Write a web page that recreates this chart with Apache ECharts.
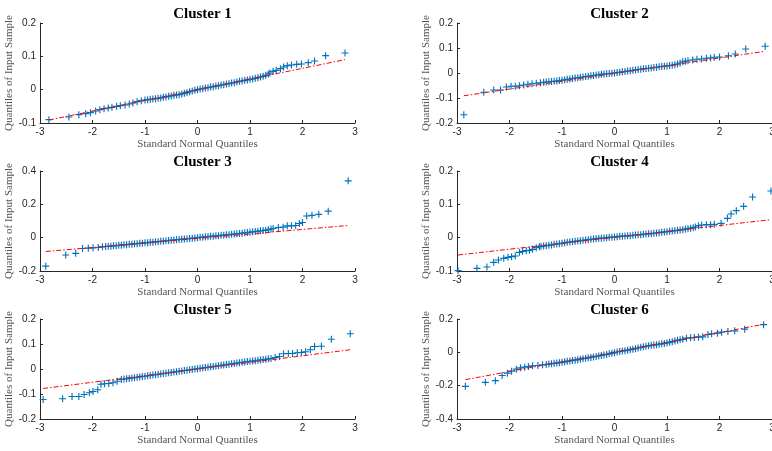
<!DOCTYPE html>
<html>
<head>
<meta charset="utf-8">
<script src="https://cdn.jsdelivr.net/npm/echarts@6/dist/echarts.min.js"></script>
<style>
  html, body { margin: 0; padding: 0; background: #fff; }
  #chart { width: 772px; height: 451px; }
</style>
</head>
<body>
<div id="chart"></div>
<script>
// Panel titles
const panelTitles = ['Cluster 1', 'Cluster 2', 'Cluster 3', 'Cluster 4', 'Cluster 5', 'Cluster 6'];

// Axis ranges: x shared, y per panel as [min, max, interval]
const xRange = [-3, 3, 1];
const yRanges = [
  [-0.1, 0.2, 0.1],
  [-0.2, 0.2, 0.1],
  [-0.2, 0.4, 0.2],
  [-0.1, 0.2, 0.1],
  [-0.2, 0.2, 0.1],
  [-0.4, 0.2, 0.2]
];

// Sample quantiles vs standard normal quantiles, [x, y]
const cluster1 = [
  [-2.83,-0.090],[-2.45,-0.082],[-2.26,-0.075],[-2.13,-0.072],[-2.04,-0.069],[-1.94,-0.064],[-1.86,-0.060],[-1.78,-0.057],
  [-1.70,-0.055],[-1.63,-0.053],[-1.54,-0.050],[-1.47,-0.048],[-1.38,-0.046],[-1.30,-0.043],[-1.23,-0.040],[-1.15,-0.036],[-1.07,-0.033],
  [-1.0,-0.031],[-0.95,-0.030],[-0.9,-0.029],[-0.85,-0.028],[-0.8,-0.027],[-0.75,-0.026],[-0.7,-0.025],[-0.65,-0.023],
  [-0.6,-0.022],[-0.55,-0.020],[-0.5,-0.019],[-0.45,-0.017],[-0.4,-0.016],[-0.35,-0.015],[-0.3,-0.013],[-0.25,-0.011],
  [-0.2,-0.009],[-0.15,-0.006],[-0.1,-0.004],[-0.05,-0.002],[0,0],[0.05,0.002],[0.1,0.003],[0.15,0.005],[0.2,0.006],
  [0.25,0.008],[0.3,0.009],[0.35,0.011],[0.4,0.012],[0.45,0.014],[0.5,0.015],[0.55,0.017],[0.6,0.018],[0.65,0.020],
  [0.7,0.021],[0.75,0.023],[0.8,0.025],[0.85,0.026],[0.9,0.028],[0.95,0.029],[1.0,0.031],[1.05,0.032],[1.1,0.034],
  [1.15,0.036],[1.2,0.038],[1.25,0.040],[1.3,0.043],[1.35,0.047],
  [1.38,0.050],[1.44,0.055],[1.50,0.058],[1.58,0.063],[1.64,0.068],[1.71,0.072],[1.79,0.074],[1.89,0.076],[1.98,0.077],
  [2.11,0.081],[2.23,0.086],[2.44,0.102],[2.81,0.110]
];
const cluster2 = [
  [-2.87,-0.167],[-2.49,-0.077],[-2.30,-0.068],[-2.17,-0.068],[-2.06,-0.056],[-1.97,-0.053],[-1.89,-0.053],[-1.81,-0.051],
  [-1.73,-0.048],[-1.65,-0.045],[-1.57,-0.043],[-1.49,-0.041],[-1.41,-0.039],
  [-1.35,-0.037],[-1.3,-0.036],[-1.25,-0.035],[-1.2,-0.034],[-1.15,-0.033],[-1.1,-0.032],[-1.05,-0.030],[-1.0,-0.029],
  [-0.95,-0.027],[-0.9,-0.025],[-0.85,-0.024],[-0.8,-0.022],[-0.75,-0.020],[-0.7,-0.019],[-0.65,-0.017],[-0.6,-0.016],
  [-0.55,-0.014],[-0.5,-0.013],[-0.45,-0.011],[-0.4,-0.010],[-0.35,-0.008],[-0.3,-0.007],[-0.25,-0.005],[-0.2,-0.004],
  [-0.15,-0.003],[-0.1,-0.002],[-0.05,-0.001],[0,0],[0.05,0.002],[0.1,0.003],[0.15,0.005],[0.2,0.006],[0.25,0.008],
  [0.3,0.009],[0.35,0.011],[0.4,0.012],[0.45,0.014],[0.5,0.015],[0.55,0.017],[0.6,0.018],[0.65,0.019],[0.7,0.020],
  [0.75,0.022],[0.8,0.023],[0.85,0.025],[0.9,0.026],[0.95,0.027],[1.0,0.028],[1.05,0.030],[1.1,0.031],[1.15,0.033],
  [1.2,0.036],[1.25,0.040],[1.3,0.045],[1.35,0.047],
  [1.40,0.049],[1.49,0.052],[1.57,0.055],[1.66,0.056],[1.75,0.059],[1.83,0.060],[1.90,0.063],[2.0,0.064],
  [2.17,0.069],[2.30,0.076],[2.50,0.096],[2.87,0.107]
];
const cluster3 = [
  [-2.89,-0.171],[-2.51,-0.104],[-2.32,-0.094],[-2.19,-0.065],[-2.08,-0.063],[-1.99,-0.061],[-1.89,-0.059],[-1.81,-0.055],[-1.75,-0.053],
  [-1.7,-0.052],[-1.65,-0.051],[-1.6,-0.049],[-1.55,-0.048],[-1.5,-0.046],[-1.45,-0.045],[-1.4,-0.043],[-1.35,-0.042],
  [-1.3,-0.040],[-1.25,-0.039],[-1.2,-0.037],[-1.15,-0.036],[-1.1,-0.034],[-1.05,-0.033],[-1.0,-0.031],[-0.95,-0.030],
  [-0.9,-0.028],[-0.85,-0.027],[-0.8,-0.025],[-0.75,-0.024],[-0.7,-0.022],[-0.65,-0.021],[-0.6,-0.019],[-0.55,-0.017],
  [-0.5,-0.015],[-0.45,-0.014],[-0.4,-0.012],[-0.35,-0.011],[-0.3,-0.009],[-0.25,-0.008],[-0.2,-0.006],[-0.15,-0.005],
  [-0.1,-0.003],[-0.05,-0.002],[0,0],[0.05,0.002],[0.1,0.003],[0.15,0.005],[0.2,0.006],[0.25,0.008],[0.3,0.009],
  [0.35,0.011],[0.4,0.012],[0.45,0.014],[0.5,0.015],[0.55,0.017],[0.6,0.018],[0.65,0.020],[0.7,0.022],[0.75,0.024],
  [0.8,0.025],[0.85,0.027],[0.9,0.029],[0.95,0.031],[1.0,0.033],[1.05,0.035],[1.1,0.037],[1.15,0.039],[1.2,0.041],
  [1.25,0.043],[1.3,0.045],[1.35,0.048],[1.4,0.052],
  [1.44,0.055],[1.54,0.061],[1.63,0.063],[1.71,0.071],[1.79,0.071],[1.87,0.073],[1.94,0.085],[2.0,0.091],
  [2.08,0.130],[2.18,0.134],[2.31,0.140],[2.49,0.159],[2.87,0.341]
];
const cluster4 = [
  [-2.98,-0.099],[-2.62,-0.092],[-2.43,-0.088],[-2.30,-0.074],[-2.21,-0.067],[-2.11,-0.062],[-2.03,-0.059],[-1.96,-0.057],[-1.89,-0.055],
  [-1.81,-0.044],[-1.75,-0.041],[-1.68,-0.039],[-1.62,-0.038],[-1.56,-0.035],[-1.49,-0.030],[-1.43,-0.027],
  [-1.4,-0.026],[-1.35,-0.025],[-1.3,-0.024],[-1.25,-0.023],[-1.2,-0.022],[-1.15,-0.020],[-1.1,-0.019],[-1.05,-0.018],
  [-1.0,-0.017],[-0.95,-0.015],[-0.9,-0.014],[-0.85,-0.013],[-0.8,-0.012],[-0.75,-0.011],[-0.7,-0.010],[-0.65,-0.009],
  [-0.6,-0.008],[-0.55,-0.007],[-0.5,-0.006],[-0.45,-0.005],[-0.4,-0.004],[-0.35,-0.003],[-0.3,-0.002],[-0.25,-0.0015],
  [-0.2,-0.001],[-0.15,0.000],[-0.1,0.001],[-0.05,0.0015],[0,0.002],[0.05,0.003],[0.1,0.004],[0.15,0.0045],[0.2,0.005],
  [0.25,0.0055],[0.3,0.006],[0.35,0.007],[0.4,0.008],[0.45,0.0085],[0.5,0.009],[0.55,0.010],[0.6,0.011],[0.65,0.0115],
  [0.7,0.012],[0.75,0.013],[0.8,0.014],[0.85,0.015],[0.9,0.016],[0.95,0.017],[1.0,0.018],[1.05,0.019],[1.1,0.020],
  [1.15,0.021],[1.2,0.022],[1.25,0.023],[1.3,0.024],[1.35,0.0255],[1.4,0.027],[1.45,0.0285],[1.5,0.030],
  [1.54,0.032],[1.60,0.036],[1.66,0.038],[1.75,0.039],[1.83,0.039],[1.90,0.040],[2.03,0.043],
  [2.15,0.058],[2.22,0.071],[2.32,0.081],[2.46,0.094],[2.63,0.122],[2.98,0.140]
];
const cluster5 = [
  [-2.94,-0.122],[-2.57,-0.119],[-2.39,-0.110],[-2.26,-0.110],[-2.16,-0.102],[-2.06,-0.095],[-1.99,-0.090],[-1.90,-0.083],
  [-1.84,-0.061],[-1.77,-0.059],[-1.69,-0.058],[-1.61,-0.055],[-1.53,-0.049],[-1.45,-0.042],
  [-1.4,-0.040],[-1.35,-0.039],[-1.3,-0.038],[-1.25,-0.036],[-1.2,-0.035],[-1.15,-0.033],[-1.1,-0.032],[-1.05,-0.030],
  [-1.0,-0.029],[-0.95,-0.027],[-0.9,-0.026],[-0.85,-0.024],[-0.8,-0.023],[-0.75,-0.021],[-0.7,-0.020],[-0.65,-0.018],
  [-0.6,-0.017],[-0.55,-0.015],[-0.5,-0.014],[-0.45,-0.012],[-0.4,-0.011],[-0.35,-0.009],[-0.3,-0.008],[-0.25,-0.006],
  [-0.2,-0.005],[-0.15,-0.003],[-0.1,-0.002],[-0.05,0.000],[0,0.001],[0.05,0.003],[0.1,0.004],[0.15,0.006],[0.2,0.007],
  [0.25,0.009],[0.3,0.010],[0.35,0.012],[0.4,0.013],[0.45,0.015],[0.5,0.016],[0.55,0.018],[0.6,0.019],[0.65,0.021],
  [0.7,0.022],[0.75,0.024],[0.8,0.025],[0.85,0.027],[0.9,0.028],[0.95,0.030],[1.0,0.031],[1.05,0.032],[1.1,0.033],
  [1.15,0.035],[1.2,0.036],[1.25,0.038],[1.3,0.039],[1.35,0.041],[1.4,0.042],
  [1.48,0.046],[1.56,0.050],[1.64,0.061],[1.73,0.062],[1.81,0.062],[1.90,0.065],[1.98,0.066],[2.06,0.069],
  [2.15,0.077],[2.23,0.090],[2.36,0.091],[2.55,0.119],[2.91,0.141]
];
const cluster6 = [
  [-2.84,-0.204],[-2.46,-0.180],[-2.27,-0.170],[-2.14,-0.139],[-2.04,-0.125],[-1.96,-0.113],[-1.87,-0.101],[-1.79,-0.093],
  [-1.71,-0.089],[-1.64,-0.085],[-1.56,-0.081],[-1.46,-0.079],[-1.37,-0.075],
  [-1.3,-0.073],[-1.25,-0.070],[-1.2,-0.068],[-1.15,-0.066],[-1.1,-0.064],[-1.05,-0.062],[-1.0,-0.060],[-0.95,-0.057],
  [-0.9,-0.054],[-0.85,-0.052],[-0.8,-0.049],[-0.75,-0.047],[-0.7,-0.044],[-0.65,-0.041],[-0.6,-0.038],[-0.55,-0.036],
  [-0.5,-0.033],[-0.45,-0.031],[-0.4,-0.028],[-0.35,-0.025],[-0.3,-0.022],[-0.25,-0.019],[-0.2,-0.016],[-0.15,-0.013],
  [-0.1,-0.009],[-0.05,-0.006],[0,-0.002],[0.05,0.002],[0.1,0.005],[0.15,0.008],[0.2,0.010],[0.25,0.013],[0.3,0.016],
  [0.35,0.019],[0.4,0.022],[0.45,0.026],[0.5,0.030],[0.55,0.033],[0.6,0.036],[0.65,0.039],[0.7,0.042],[0.75,0.044],
  [0.8,0.046],[0.85,0.049],[0.9,0.051],[0.95,0.053],[1.0,0.056],[1.05,0.060],[1.1,0.064],[1.15,0.068],[1.2,0.072],
  [1.25,0.075],[1.3,0.078],
  [1.37,0.085],[1.45,0.087],[1.52,0.089],[1.60,0.091],[1.68,0.093],[1.78,0.107],[1.85,0.111],[1.96,0.115],
  [2.04,0.121],[2.16,0.125],[2.29,0.129],[2.48,0.139],[2.84,0.166]
];

// Fitted reference lines (end points)
const ref1 = [[-2.83,-0.091],[2.81,0.090]];
const ref2 = [[-2.87,-0.091],[2.87,0.087]];
const ref3 = [[-2.89,-0.083],[2.87,0.073]];
const ref4 = [[-2.98,-0.052],[2.98,0.054]];
const ref5 = [[-2.94,-0.078],[2.91,0.077]];
const ref6 = [[-2.84,-0.164],[2.84,0.168]];

const samples = [cluster1, cluster2, cluster3, cluster4, cluster5, cluster6];
const refs = [ref1, ref2, ref3, ref4, ref5, ref6];

const xLabel = 'Standard Normal Quantiles';
const yLabel = 'Quantiles of Input Sample';

// Layout of the 3x2 panel grid
const colLeft = [40, 457];
const rowTop = [23, 171, 319];
const panelW = 315;
const panelH = 100;

const axisColor = '#262626';
const markerBlue = '#0072BD';
const plusPath = 'path://M4.2,0H5.8V4.2H10V5.8H5.8V10H4.2V5.8H0V4.2H4.2Z';

const grids = [], xAxes = [], yAxes = [], series = [], titles = [];

for (let i = 0; i < 6; i++) {
  const col = i % 2, row = Math.floor(i / 2);
  grids.push({
    left: colLeft[col], top: rowTop[row], width: panelW, height: panelH,
    containLabel: false, outerBoundsMode: 'none'
  });
  titles.push({
    text: panelTitles[i],
    left: colLeft[col] + panelW / 2,
    top: rowTop[row] - 21,
    textAlign: 'center',
    textStyle: { fontFamily: 'Liberation Serif', fontWeight: 'bold', fontSize: 15, color: '#000' }
  });
  xAxes.push({
    gridIndex: i, type: 'value',
    min: xRange[0], max: xRange[1], interval: xRange[2],
    name: xLabel, nameLocation: 'middle', nameGap: 16,
    nameTextStyle: { fontFamily: 'Liberation Serif', fontSize: 11, color: '#555' },
    axisLine: { onZero: false, lineStyle: { color: axisColor, width: 1 } },
    axisTick: { inside: true, length: 3, lineStyle: { color: axisColor } },
    axisLabel: { fontFamily: 'Liberation Sans', fontSize: 10, color: axisColor, margin: 4 },
    splitLine: { show: false }
  });
  const yr = yRanges[i];
  yAxes.push({
    gridIndex: i, type: 'value',
    min: yr[0], max: yr[1], interval: yr[2],
    name: yLabel, nameLocation: 'middle', nameGap: 25, nameRotate: 90,
    nameTextStyle: { fontFamily: 'Liberation Serif', fontSize: 11, color: '#555' },
    axisLine: { show: true, onZero: false, lineStyle: { color: axisColor, width: 1 } },
    axisTick: { show: true, inside: true, length: 3, lineStyle: { color: axisColor } },
    axisLabel: { fontFamily: 'Liberation Sans', fontSize: 10, color: axisColor, margin: 4 },
    splitLine: { show: false }
  });
  series.push({
    type: 'scatter', xAxisIndex: i, yAxisIndex: i,
    data: samples[i], symbol: plusPath, symbolSize: 7,
    itemStyle: { color: markerBlue, opacity: 1 },
    silent: true, z: 2
  });
  series.push({
    type: 'line', xAxisIndex: i, yAxisIndex: i,
    data: refs[i], symbol: 'none',
    lineStyle: { color: '#ff0000', width: 1, type: [5, 2, 1.5, 2] },
    silent: true, z: 3
  });
}

const chart = echarts.init(document.getElementById('chart'), null, { renderer: 'canvas' });
chart.setOption({
  animation: false,
  backgroundColor: '#fff',
  title: titles,
  grid: grids,
  xAxis: xAxes,
  yAxis: yAxes,
  series: series
});
</script>
</body>
</html>
